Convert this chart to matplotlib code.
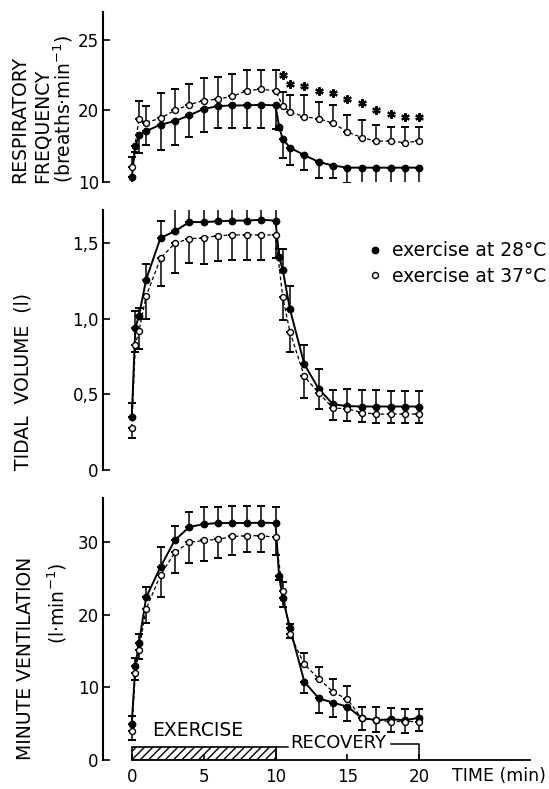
"""
Breathing pattern during exercise at 28 and 37 degC and during recovery
"""
import numpy as np
import matplotlib
matplotlib.use('Agg')
import matplotlib.pyplot as plt
from matplotlib.lines import Line2D
from matplotlib.patches import Rectangle

# --- respiratory frequency (breaths/min) ---
rf_t28 = [0, 0.25, 0.5, 1, 2, 3, 4, 5, 6, 7, 8, 9, 10, 10.25, 10.5, 11, 12, 13, 14, 15, 16, 17, 18, 19, 20]
rf_28 = [10.7, 15.0, 16.5, 17.1, 18.0, 18.5, 19.3, 20.1, 20.3, 20.35, 20.35, 20.4, 20.35,
         17.7, 16.0, 14.8, 13.75, 12.8, 12.3, 12.0, 12.0, 12.0, 12.0, 12.0, 12.0]
rf_28_sd = [-2.5, -0.8, -2.5, -2.0, -3.6, -3.4, -3.0, -3.1, -2.8, -2.8, -2.8, -2.9, -2.9,
            -0.5, -2.7, -2.4, -2.05, -2.2, -1.7, -2.2, -2.65, -2.65, -2.65, -2.65, -2.65]
rf_t37 = [0, 0.5, 1, 2, 3, 4, 5, 6, 7, 8, 9, 10, 10.5, 11, 12, 13, 14, 15, 16, 17, 18, 19, 20]
rf_37 = [12.1, 18.75, 18.3, 18.9, 20.0, 20.4, 20.7, 20.8, 21.0, 21.4, 21.5, 21.4,
         20.3, 19.8, 19.1, 18.85, 18.2, 17.0, 16.2, 15.7, 15.7, 15.5, 15.7]
rf_37_sd = [1.4, 1.95, 2.0, 2.3, 1.5, 1.5, 1.6, 1.6, 1.6, 1.5, 1.4, 1.5,
            1.0, 1.3, 2.0, 1.75, 2.15, 2.3, 2.5, 2.2, 2.0, 2.2, 2.0]
rf_sig_t = [10.5, 11, 12, 13, 14, 15, 16, 17, 18, 19, 20]
rf_sig_y = [22.5, 21.9, 21.7, 21.35, 21.2, 20.8, 20.5, 20.0, 19.45, 19.1, 19.1]
rf_ticks = [10, 20, 25]

# --- tidal volume (l) ---
tv_t28 = [0, 0.25, 0.5, 1, 2, 3, 4, 5, 6, 7, 8, 9, 10, 10.25, 10.5, 11, 12, 13, 14, 15, 16, 17, 18, 19, 20]
tv_28 = [0.35, 0.94, 1.02, 1.26, 1.535, 1.58, 1.64, 1.64, 1.645, 1.65, 1.65, 1.655, 1.65,
         1.41, 1.325, 1.065, 0.70, 0.537, 0.435, 0.423, 0.42, 0.42, 0.42, 0.42, 0.42]
tv_28_sd = [0.09, 0.11, 0.05, 0.10, 0.115, 0.18, 0.13, 0.13, 0.125, 0.12, 0.12, 0.115, 0.12,
            0.05, 0.135, 0.15, 0.13, 0.13, 0.095, 0.11, 0.11, 0.11, 0.10, 0.10, 0.10]
tv_t37 = [0, 0.25, 0.5, 1, 2, 3, 4, 5, 6, 7, 8, 9, 10, 10.5, 11, 12, 13, 14, 15, 16, 17, 18, 19, 20]
tv_37 = [0.28, 0.83, 0.92, 1.15, 1.40, 1.50, 1.53, 1.535, 1.55, 1.555, 1.555, 1.555, 1.555,
         1.145, 0.915, 0.62, 0.51, 0.41, 0.405, 0.38, 0.37, 0.37, 0.37, 0.37]
tv_37_sd = [-0.07, -0.05, -0.12, -0.15, -0.18, -0.2, -0.16, -0.175, -0.17, -0.165, -0.165, -0.165, -0.155,
            -0.155, -0.135, -0.145, -0.105, -0.08, -0.08, -0.06, -0.06, -0.06, -0.06, -0.06]
tv_ticks = [0, 0.5, 1.0, 1.5]
tv_ticklabels = ['0', '0,5', '1,0', '1,5']

# --- minute ventilation (l/min) ---
ve_t28 = [0, 0.25, 0.5, 1, 2, 3, 4, 5, 6, 7, 8, 9, 10, 10.25, 10.5, 11, 12, 13, 14, 15, 16, 17, 18, 19, 20]
ve_28 = [5.0, 13.0, 16.1, 22.4, 26.6, 30.3, 32.1, 32.5, 32.65, 32.65, 32.65, 32.7, 32.65,
         25.3, 22.3, 18.25, 10.8, 8.5, 7.9, 7.35, 5.8, 5.5, 5.6, 5.5, 5.8]
ve_28_sd = [1.0, 1.0, 1.3, 1.4, 2.8, 2.0, 2.1, 2.3, 2.25, 2.3, 2.3, 2.3, 2.2,
            -0.5, -1.2, -1.5, -1.6, -2.0, -2.0, -2.0, -1.7, -1.7, -1.7, -1.8, -1.8]
ve_t37 = [0, 0.25, 0.5, 1, 2, 3, 4, 5, 6, 7, 8, 9, 10, 10.5, 11, 12, 13, 14, 15, 16, 17, 18, 19, 20]
ve_37 = [4.0, 12.0, 15.2, 20.8, 25.5, 28.6, 30.0, 30.25, 30.4, 30.8, 30.9, 30.9, 30.7,
         23.3, 17.3, 13.2, 11.2, 9.4, 8.35, 5.75, 5.5, 5.3, 5.3, 5.3]
ve_37_sd = [-1.2, -1.0, -1.3, -1.9, -3.0, -2.9, -2.8, -2.85, -2.5, -2.5, -2.3, -2.3, -2.4,
            1.2, 1.5, 1.5, 1.6, 1.8, 1.9, 1.5, 1.8, 1.9, 1.7, 1.7]
ve_ticks = [0, 10, 20, 30]

x_ticks = [0, 5, 10, 15, 20]
exercise_period = (0, 10)
recovery_period = (10, 20)
legend_labels = ['exercise at 28°C', 'exercise at 37°C']

FS = 12      # 刻度
FS_L = 13.5  # 标签/图例
plt.rcParams['font.family'] = ['DejaVu Sans']
plt.rcParams['hatch.linewidth'] = 1.0

W, H = 549, 789
XLIM = (-2.0, 27.7)


def px_box(left, top, right, bottom):
    """像素框 -> figure 坐标"""
    return [left / W, 1 - bottom / H, (right - left) / W, (bottom - top) / H]


def signed_err(sd):
    sd = np.asarray(sd, float)
    return [np.clip(-sd, 0, None), np.clip(sd, 0, None)]


def rf_forward(y):
    y = np.asarray(y, float)
    return np.where(y < 20, 20 + (y - 20) * 0.51, y)


def rf_inverse(z):
    z = np.asarray(z, float)
    return np.where(z < 20, 20 + (z - 20) / 0.51, z)


def draw_pair(ax, t28, y28, sd28, t37, y37, sd37):
    ebar = dict(fmt='none', ecolor='black', elinewidth=1.1, capsize=2.8, capthick=1.4)
    ax.errorbar(t37, y37, yerr=signed_err(sd37), zorder=2, **ebar)
    ax.errorbar(t28, y28, yerr=signed_err(sd28), zorder=2, **ebar)
    ax.plot(t37, y37, ls=(0, (3, 2)), color='black', lw=0.9, zorder=3)
    ax.plot(t28, y28, '-', color='black', lw=1.4, zorder=3)
    ax.plot(t37, y37, 'o', ls='none', ms=4.3, mfc='white', mec='black', mew=1.0, zorder=5)
    ax.plot(t28, y28, 'o', ls='none', ms=4.6, color='black', zorder=4)


def style_axis(ax, show_x=False):
    ax.set_xlim(*XLIM)
    for s in ['top', 'right']:
        ax.spines[s].set_visible(False)
    ax.spines['left'].set_linewidth(1.5)
    ax.tick_params(axis='y', direction='in', length=5, width=1.2, labelsize=FS, pad=3)
    if show_x:
        ax.spines['bottom'].set_linewidth(1.3)
        ax.spines['bottom'].set_bounds(0, XLIM[1])
        ax.set_xticks(x_ticks)
        ax.tick_params(axis='x', direction='in', length=4, width=1.2, labelsize=FS, pad=6)
    else:
        ax.spines['bottom'].set_visible(False)
        ax.set_xticks([])


fig = plt.figure(figsize=(W / 100, H / 100), dpi=100)

# 呼吸频率
ax1 = fig.add_axes(px_box(103, 12, 530, 182))
draw_pair(ax1, rf_t28, rf_28, rf_28_sd, rf_t37, rf_37, rf_37_sd)
ax1.plot(rf_sig_t, rf_sig_y, ls='none', marker=(6, 2, 0), ms=6, mew=1.6, color='black')
ax1.set_yscale('function', functions=(rf_forward, rf_inverse))
ax1.set_ylim(10, 27)
ax1.set_yticks(rf_ticks)
ax1.set_yticklabels([str(v) for v in rf_ticks])
ax1.minorticks_off()
style_axis(ax1)

# 潮气量
ax2 = fig.add_axes(px_box(103, 210, 530, 470))
draw_pair(ax2, tv_t28, tv_28, tv_28_sd, tv_t37, tv_37, tv_37_sd)
ax2.set_ylim(0, 1.72)
ax2.set_yticks(tv_ticks)
ax2.set_yticklabels(tv_ticklabels)
style_axis(ax2)
handles = [Line2D([], [], ls='none', marker='o', ms=4.6, color='black'),
           Line2D([], [], ls='none', marker='o', ms=4.3, mfc='white', mec='black', mew=1.0)]
ax2.legend(handles, legend_labels, loc='upper left', bbox_to_anchor=(0.618, 0.88),
           frameon=False, fontsize=FS_L, borderpad=0, borderaxespad=0,
           handlelength=0.9, handletextpad=0.45, labelspacing=0.35)

# 每分通气量
ax3 = fig.add_axes(px_box(103, 498, 530, 760))
draw_pair(ax3, ve_t28, ve_28, ve_28_sd, ve_t37, ve_37, ve_37_sd)
ax3.set_ylim(0, 36.1)
ax3.set_yticks(ve_ticks)
style_axis(ax3, show_x=True)

# 运动期 / 恢复期标记
bar_h = 1.8
ax3.add_patch(Rectangle((exercise_period[0], 0), exercise_period[1] - exercise_period[0], bar_h,
                        facecolor='white', edgecolor='black', hatch='////', lw=1.2, zorder=1))
ax3.text(exercise_period[0] + 1.4, 4.0, 'EXERCISE', fontsize=FS_L, va='center', ha='left')
r0, r1 = recovery_period
ax3.plot([r0, r0, r0 + 0.9], [0, bar_h, bar_h], color='black', lw=1.1)
ax3.plot([r1 - 2.0, r1, r1], [bar_h + 0.4, bar_h + 0.4, 0], color='black', lw=1.1)
ax3.text(r0 + 1.05, 2.3, 'RECOVERY', fontsize=13, va='center', ha='left')

fig.text(452 / W, 1 - 776 / H, 'TIME (min)', fontsize=12.5, va='center', ha='left')

# y 轴标题
def ylab(x, y, s, va='bottom', fs=FS_L):
    fig.text(x / W, 1 - y / H, s, rotation=90, fontsize=fs, ha='center', va=va)


ylab(20, 183, 'RESPIRATORY')
ylab(42, 183, 'FREQUENCY')
ylab(63, 183, '(breaths·min$^{-1}$)')
ylab(23, 470, 'TIDAL  VOLUME  (l)')
ylab(26, 760, 'MINUTE VENTILATION')
ylab(57, 562, '(l·min$^{-1}$)', va='top')

fig.savefig('out.png', dpi=100)
